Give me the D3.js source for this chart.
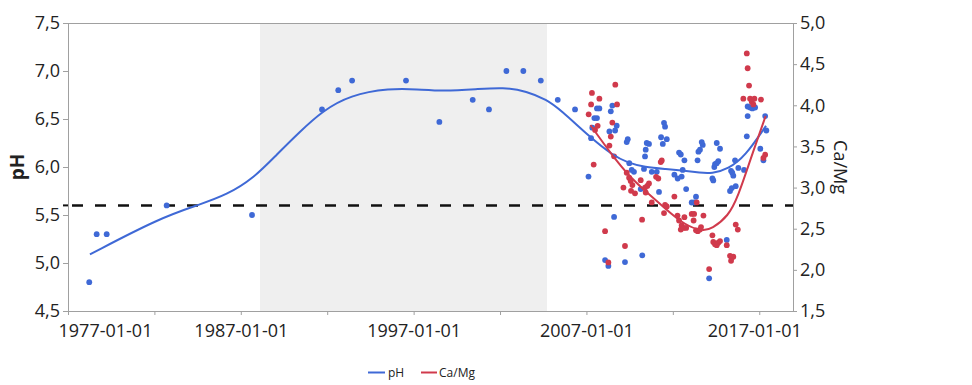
<!DOCTYPE html>
<html>
<head>
<meta charset="utf-8">
<script src="https://cdn.jsdelivr.net/npm/d3@7"></script>
<style>
  body { margin: 0; background: #fff; }
  svg { display: block; font-family: 'Open Sans', sans-serif; }
  .axis path, .axis line { stroke: #a0a0a0; }
  .axis text { fill: #222; }
</style>
</head>
<body>
<svg id="chart" width="972" height="385"></svg>
<script>
// pH samples (decimal year, pH)
const phYears = [1978.23, 1978.66, 1979.24, 1982.71, 1987.65, 1991.70, 1992.64, 1993.44, 1996.56,
  1998.49, 2000.42, 2001.36, 2002.37, 2003.35, 2004.36, 2005.34, 2006.34,
  2007.12, 2007.27, 2007.34, 2007.46, 2007.61, 2007.61, 2007.75, 2008.33, 2008.41, 2008.50,
  2008.66, 2008.75, 2008.60, 2008.08, 2008.27, 2009.23, 2009.33, 2009.39, 2009.48, 2009.62,
  2009.75, 2010.14, 2010.23, 2010.33, 2010.39, 2010.43, 2010.49, 2010.62, 2010.78, 2011.07,
  2011.20, 2011.32, 2011.42, 2011.49, 2011.55, 2011.65, 2012.09, 2012.28, 2012.36, 2012.46,
  2012.51, 2012.57, 2012.67, 2012.77, 2013.09, 2013.23, 2013.34, 2013.43, 2013.48, 2013.57,
  2013.73, 2013.67, 2014.10, 2014.29, 2014.34, 2014.40, 2014.44, 2014.54, 2014.63, 2014.54,
  2014.73, 2015.12, 2015.31, 2015.41, 2015.64, 2015.37, 2015.44, 2015.50, 2015.60, 2015.79,
  2016.12, 2016.28, 2016.33, 2016.33, 2016.47, 2016.60, 2016.76, 2017.06, 2017.24, 2017.34,
  2017.41];
const phValues = [4.80, 5.30, 5.30, 5.60, 5.50, 6.60, 6.80, 6.90, 6.90,
  6.47, 6.70, 6.60, 7.00, 7.00, 6.90, 6.70, 6.60,
  5.90, 6.30, 6.41, 6.51, 6.51, 6.61, 6.61, 6.37, 6.58, 6.64,
  6.38, 6.43, 5.48, 5.03, 4.97, 5.01, 6.26, 6.29, 6.04, 5.97,
  5.95, 5.77, 5.08, 5.98, 6.11, 6.18, 6.25, 6.24, 5.95, 5.95,
  5.74, 6.31, 6.24, 6.46, 6.42, 6.29, 5.92, 5.88, 6.15, 6.13,
  5.90, 5.97, 6.07, 5.77, 5.63, 5.63, 5.69, 6.07, 6.16, 6.18,
  6.23, 6.26, 4.84, 5.88, 5.86, 6.00, 6.03, 6.04, 6.06, 6.25,
  6.19, 5.24, 5.75, 5.78, 5.80, 5.96, 5.94, 5.91, 6.07, 5.99,
  5.97, 6.32, 6.53, 6.63, 6.62, 6.61, 6.62, 6.19, 6.07, 6.53,
  6.38];

// Ca/Mg samples (decimal year, ratio)
const ratioYears = [2007.13, 2007.27, 2007.32, 2007.42, 2007.50, 2007.65, 2007.75, 2008.08, 2008.27,
  2008.33, 2008.41, 2008.50, 2008.60, 2008.67, 2008.77, 2009.14, 2009.23, 2009.33, 2009.47,
  2009.56, 2009.58, 2009.66, 2009.81, 2010.14, 2010.22, 2010.39, 2010.43, 2010.52, 2010.62,
  2010.78, 2011.03, 2011.16, 2011.30, 2011.36, 2011.49, 2011.55, 2011.65, 2012.09, 2012.27,
  2012.36, 2012.46, 2012.51, 2012.62, 2012.77, 2012.67, 2013.09, 2013.23, 2013.20, 2013.38,
  2013.44, 2013.34, 2013.57, 2013.63, 2013.77, 2014.10, 2014.29, 2014.34, 2014.44, 2014.54,
  2014.63, 2014.73, 2015.12, 2015.31, 2015.41, 2015.50, 2015.37, 2015.64, 2015.76, 2016.08,
  2016.28, 2016.33, 2016.41, 2016.47, 2016.72, 2017.10, 2016.57, 2016.66, 2017.34, 2017.24];
const ratioValues = [3.89, 4.01, 4.15, 3.28, 3.70, 3.75, 4.08, 2.47, 2.09,
  3.51, 3.62, 3.79, 3.38, 4.25, 4.01, 3.00, 2.29, 3.18, 3.12,
  3.08, 2.96, 3.03, 2.93, 3.09, 2.61, 3.00, 2.94, 3.02, 3.05,
  2.82, 3.13, 3.11, 3.31, 3.33, 2.69, 2.79, 2.77, 2.89, 2.66,
  2.60, 2.49, 2.54, 2.51, 2.51, 2.64, 2.68, 2.68, 2.60, 2.82,
  2.47, 2.48, 2.49, 2.52, 2.66, 2.01, 2.42, 2.34, 2.31, 2.30,
  2.33, 2.35, 2.30, 2.17, 2.15, 2.16, 2.11, 2.55, 2.49, 4.08,
  4.63, 4.45, 4.24, 4.08, 4.08, 4.07, 4.04, 4.01, 3.40, 3.36];

// smoother curves
const phFitYears = [1978.27, 1982.32, 1984.64, 1986.18, 1987.72, 1989.08, 1990.43, 1991.70, 1993.32,
  1995.63, 1997.18, 1998.72, 2000.65, 2002.19, 2003.55, 2004.70, 2005.47, 2007.27, 2008.46,
  2009.42, 2010.39, 2011.54, 2012.70, 2013.56, 2014.25, 2015.21, 2016.18, 2017.39];
const phFitValues = [5.09, 5.47, 5.61, 5.71, 5.88, 6.13, 6.37, 6.58, 6.75,
  6.82, 6.81, 6.79, 6.81, 6.83, 6.79, 6.70, 6.60, 6.30, 6.13,
  6.04, 6.00, 5.98, 5.96, 5.94, 5.93, 5.98, 6.11, 6.43];
const ratioFitYears = [2007.23, 2008.46, 2009.47, 2010.39, 2011.54, 2012.70, 2013.75, 2014.25,
  2015.21, 2015.79, 2016.47, 2017.37];
const ratioFitValues = [3.76, 3.40, 3.14, 2.96, 2.75, 2.54, 2.47, 2.50,
  2.65, 2.90, 3.33, 3.87];

const phTicks = [4.5, 5.0, 5.5, 6.0, 6.5, 7.0, 7.5];
const ratioTicks = [1.5, 2.0, 2.5, 3.0, 3.5, 4.0, 4.5, 5.0];
const labelYears = [1977, 1987, 1997, 2007, 2017];
const minorYears = [1982, 1992, 2002, 2012];
const shadeRange = [1988.11, 2004.72];
const refPh = 5.6;

const phColor = '#3f69d6';
const ratioColor = '#d03a4c';

function toDate(y) {
  const yr = Math.floor(y);
  const a = new Date(yr, 0, 1);
  const b = new Date(yr + 1, 0, 1);
  return new Date(+a + (y - yr) * (b - a));
}

const svg = d3.select('#chart');

const plot = { left: 68, right: 793, top: 23, bottom: 311 };

//
// Scales
//

const x = d3.scaleTime()
  .domain([new Date(1977, 0, 1), new Date(2018, 11, 15)])
  .range([plot.left, plot.right]);

const yPh = d3.scaleLinear().domain([4.5, 7.5]).range([plot.bottom, plot.top]);
const yRatio = d3.scaleLinear().domain([1.5, 5.0]).range([plot.bottom, plot.top]);

const comma = (d) => d3.format('.1f')(d).replace('.', ',');

//
// Shaded period
//

svg.append('rect')
  .attr('x', x(toDate(shadeRange[0])))
  .attr('y', plot.top + 0.5)
  .attr('width', x(toDate(shadeRange[1])) - x(toDate(shadeRange[0])))
  .attr('height', plot.bottom - plot.top)
  .attr('fill', '#efefef');

// top frame line
svg.append('line')
  .attr('x1', plot.left).attr('x2', plot.right)
  .attr('y1', plot.top + 0.5).attr('y2', plot.top + 0.5)
  .attr('stroke', '#a0a0a0');

//
// Axes
//

const xAxis = svg.append('g')
  .attr('class', 'axis')
  .attr('transform', `translate(0,${plot.bottom})`)
  .call(d3.axisBottom(x)
    .tickValues(labelYears.concat(minorYears).map((y) => new Date(y, 0, 1)))
    .tickSize(4)
    .tickSizeOuter(0)
    .tickPadding(9)
    .tickFormat((d) => labelYears.includes(d.getFullYear()) ? d3.timeFormat('%Y-%m-%d')(d) : ''));

xAxis.attr('font-family', "'Open Sans', sans-serif").attr('font-size', 18);
xAxis.selectAll('.tick text')
  .filter((d) => d.getFullYear() === 1977)
  .attr('text-anchor', 'start')
  .attr('x', -10);
xAxis.selectAll('.tick text')
  .filter((d) => d.getFullYear() === 2017)
  .attr('x', -5);

const leftAxis = svg.append('g')
  .attr('class', 'axis')
  .attr('transform', `translate(${plot.left},0)`)
  .call(d3.axisLeft(yPh).tickValues(phTicks).tickSize(5).tickSizeOuter(0).tickPadding(3).tickFormat(comma));
leftAxis.attr('font-family', "'Open Sans', sans-serif").attr('font-size', 18);

const rightAxis = svg.append('g')
  .attr('class', 'axis')
  .attr('transform', `translate(${plot.right},0)`)
  .call(d3.axisRight(yRatio).tickValues(ratioTicks).tickSize(4).tickSizeOuter(0).tickPadding(3).tickFormat(comma));
rightAxis.attr('font-family', "'Open Sans', sans-serif").attr('font-size', 18);

// axis titles
svg.append('text')
  .attr('transform', `translate(24,${(plot.top + plot.bottom) / 2}) rotate(-90)`)
  .attr('text-anchor', 'middle')
  .attr('font-size', 19)
  .attr('font-weight', 'bold')
  .attr('fill', '#222')
  .text('pH');

svg.append('text')
  .attr('transform', `translate(834,${(plot.top + plot.bottom) / 2}) rotate(90)`)
  .attr('text-anchor', 'middle')
  .attr('font-size', 18)
  .attr('fill', '#222')
  .text('Ca/Mg');

//
// Reference line
//

svg.append('line')
  .attr('x1', plot.left).attr('x2', plot.right)
  .attr('y1', yPh(refPh)).attr('y2', yPh(refPh))
  .attr('stroke', '#111')
  .attr('stroke-width', 2.5)
  .attr('stroke-dasharray', '11,12')
  .attr('stroke-dashoffset', -4);

svg.append('line')
  .attr('x1', plot.left - 5).attr('x2', plot.left)
  .attr('y1', yPh(refPh)).attr('y2', yPh(refPh))
  .attr('stroke', '#111')
  .attr('stroke-width', 2);

//
// Points
//

svg.append('g')
  .selectAll('circle')
  .data(phYears)
  .join('circle')
  .attr('cx', (d) => x(toDate(d)))
  .attr('cy', (d, i) => yPh(phValues[i]))
  .attr('r', 2.9)
  .attr('fill', phColor);

svg.append('g')
  .selectAll('circle')
  .data(ratioYears)
  .join('circle')
  .attr('cx', (d) => x(toDate(d)))
  .attr('cy', (d, i) => yRatio(ratioValues[i]))
  .attr('r', 2.9)
  .attr('fill', ratioColor);

//
// Smoother lines
//

const phLine = d3.line()
  .curve(d3.curveBasis)
  .x((d) => x(toDate(d)))
  .y((d, i) => yPh(phFitValues[i]));

const ratioLine = d3.line()
  .curve(d3.curveBasis)
  .x((d) => x(toDate(d)))
  .y((d, i) => yRatio(ratioFitValues[i]));

svg.append('path')
  .datum(phFitYears)
  .attr('fill', 'none')
  .attr('stroke', phColor)
  .attr('stroke-width', 2)
  .attr('d', phLine);

svg.append('path')
  .datum(ratioFitYears)
  .attr('fill', 'none')
  .attr('stroke', ratioColor)
  .attr('stroke-width', 2)
  .attr('d', ratioLine);

//
// Legend
//

const legend = svg.append('g').attr('font-size', 12).attr('fill', '#222');

legend.append('line')
  .attr('x1', 368).attr('x2', 385).attr('y1', 372.5).attr('y2', 372.5)
  .attr('stroke', phColor).attr('stroke-width', 2);
legend.append('text').attr('x', 388).attr('y', 377).text('pH');

legend.append('line')
  .attr('x1', 421).attr('x2', 437).attr('y1', 372.5).attr('y2', 372.5)
  .attr('stroke', ratioColor).attr('stroke-width', 2);
legend.append('text').attr('x', 439).attr('y', 377).text('Ca/Mg');
</script>
</body>
</html>
